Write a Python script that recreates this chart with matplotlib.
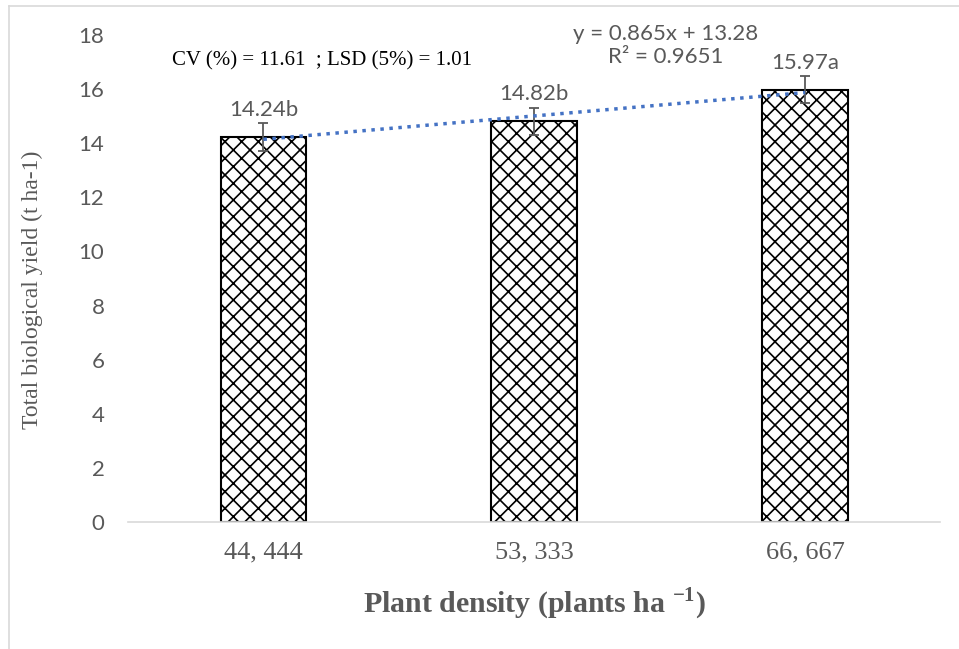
import matplotlib
matplotlib.use('Agg')
import matplotlib.pyplot as plt
import numpy as np

densities = ["44, 444", "53, 333", "66, 667"]
yields = [14.24, 14.82, 15.97]
errors = [0.52, 0.50, 0.50]
letters = ["b", "b", "a"]
slope, intercept, r2 = 0.865, 13.28, 0.9651

grey = "#595959"
serif = "Liberation Serif"
sans = "Lato"

plt.rcParams['hatch.linewidth'] = 1.2
plt.rcParams['mathtext.fontset'] = 'custom'
plt.rcParams['mathtext.bf'] = 'Liberation Serif:bold'
plt.rcParams['mathtext.rm'] = 'Liberation Serif'

fig = plt.figure(figsize=(9.59, 6.49), dpi=100)
ax = fig.add_axes([0.1335, 0.1957, 0.8472, 0.7503])

x = np.arange(1, len(yields) + 1)
ax.bar(x, yields, width=0.317, color="white", edgecolor="black",
       linewidth=1.5, hatch="xx", zorder=2)
ax.errorbar(x, yields, yerr=errors, fmt="none", ecolor=grey,
            elinewidth=1.3, capsize=3.5, capthick=1.3, zorder=3)

trend = slope * x + intercept
ax.plot(x, trend, color="#4472C4", linestyle=(0, (1, 1.6)), linewidth=2.5, zorder=4)

for xi, v, l in zip(x, yields, letters):
    ax.text(xi, v + 1.0, "%.2f%s" % (v, l), ha="center", va="center",
            fontsize=16, color=grey, family=sans)

ax.text(0.662, 17.04, "CV (%) = 11.61  ; LSD (5%) = 1.01", fontsize=15,
        family=serif, color="black", va="center", ha="left")
ax.text(2.485, 18.04, "y = 0.865x + 13.28", fontsize=16, color=grey,
        family=sans, ha="center", va="center")
ax.text(2.485, 17.2, "R² = 0.9651", fontsize=16, color=grey,
        family=sans, ha="center", va="center")

ax.set_xlim(0.5, 3.5)
ax.set_ylim(0, 18)
ax.set_yticks(np.arange(0, 19, 2))
ax.set_xticks(x)
ax.set_xticklabels(densities, fontsize=19, family=serif, color=grey)
for t in ax.get_yticklabels():
    t.set_fontsize(16)
    t.set_family(sans)
    t.set_color(grey)
ax.tick_params(axis="y", length=0, pad=17)
ax.tick_params(axis="x", length=0, pad=14)
for s in ["top", "right", "left"]:
    ax.spines[s].set_visible(False)
ax.spines["bottom"].set_color("#D9D9D9")
ax.spines["bottom"].set_linewidth(1.2)

ax.set_ylabel("Total biological yield (t ha-1)", fontsize=17, family=serif,
              color=grey)
ax.yaxis.set_label_coords(-0.118, 0.476)
ax.yaxis.label.set_va("center")
ax.set_xlabel("Plant density (plants ha $^{\\mathbf{-1}}$)", fontsize=21.5,
              family=serif, weight="bold", color=grey)
ax.xaxis.set_label_coords(0.5, -0.168)
ax.xaxis.label.set_va("center")

# chart area border (top and left edges visible)
fig.add_artist(plt.Line2D([9 / 959, 1], [1 - 6 / 649, 1 - 6 / 649],
                          color="#D9D9D9", linewidth=1.2))
fig.add_artist(plt.Line2D([9 / 959, 9 / 959], [0, 1 - 6 / 649],
                          color="#D9D9D9", linewidth=1.2))

fig.savefig("out.png", dpi=100)
